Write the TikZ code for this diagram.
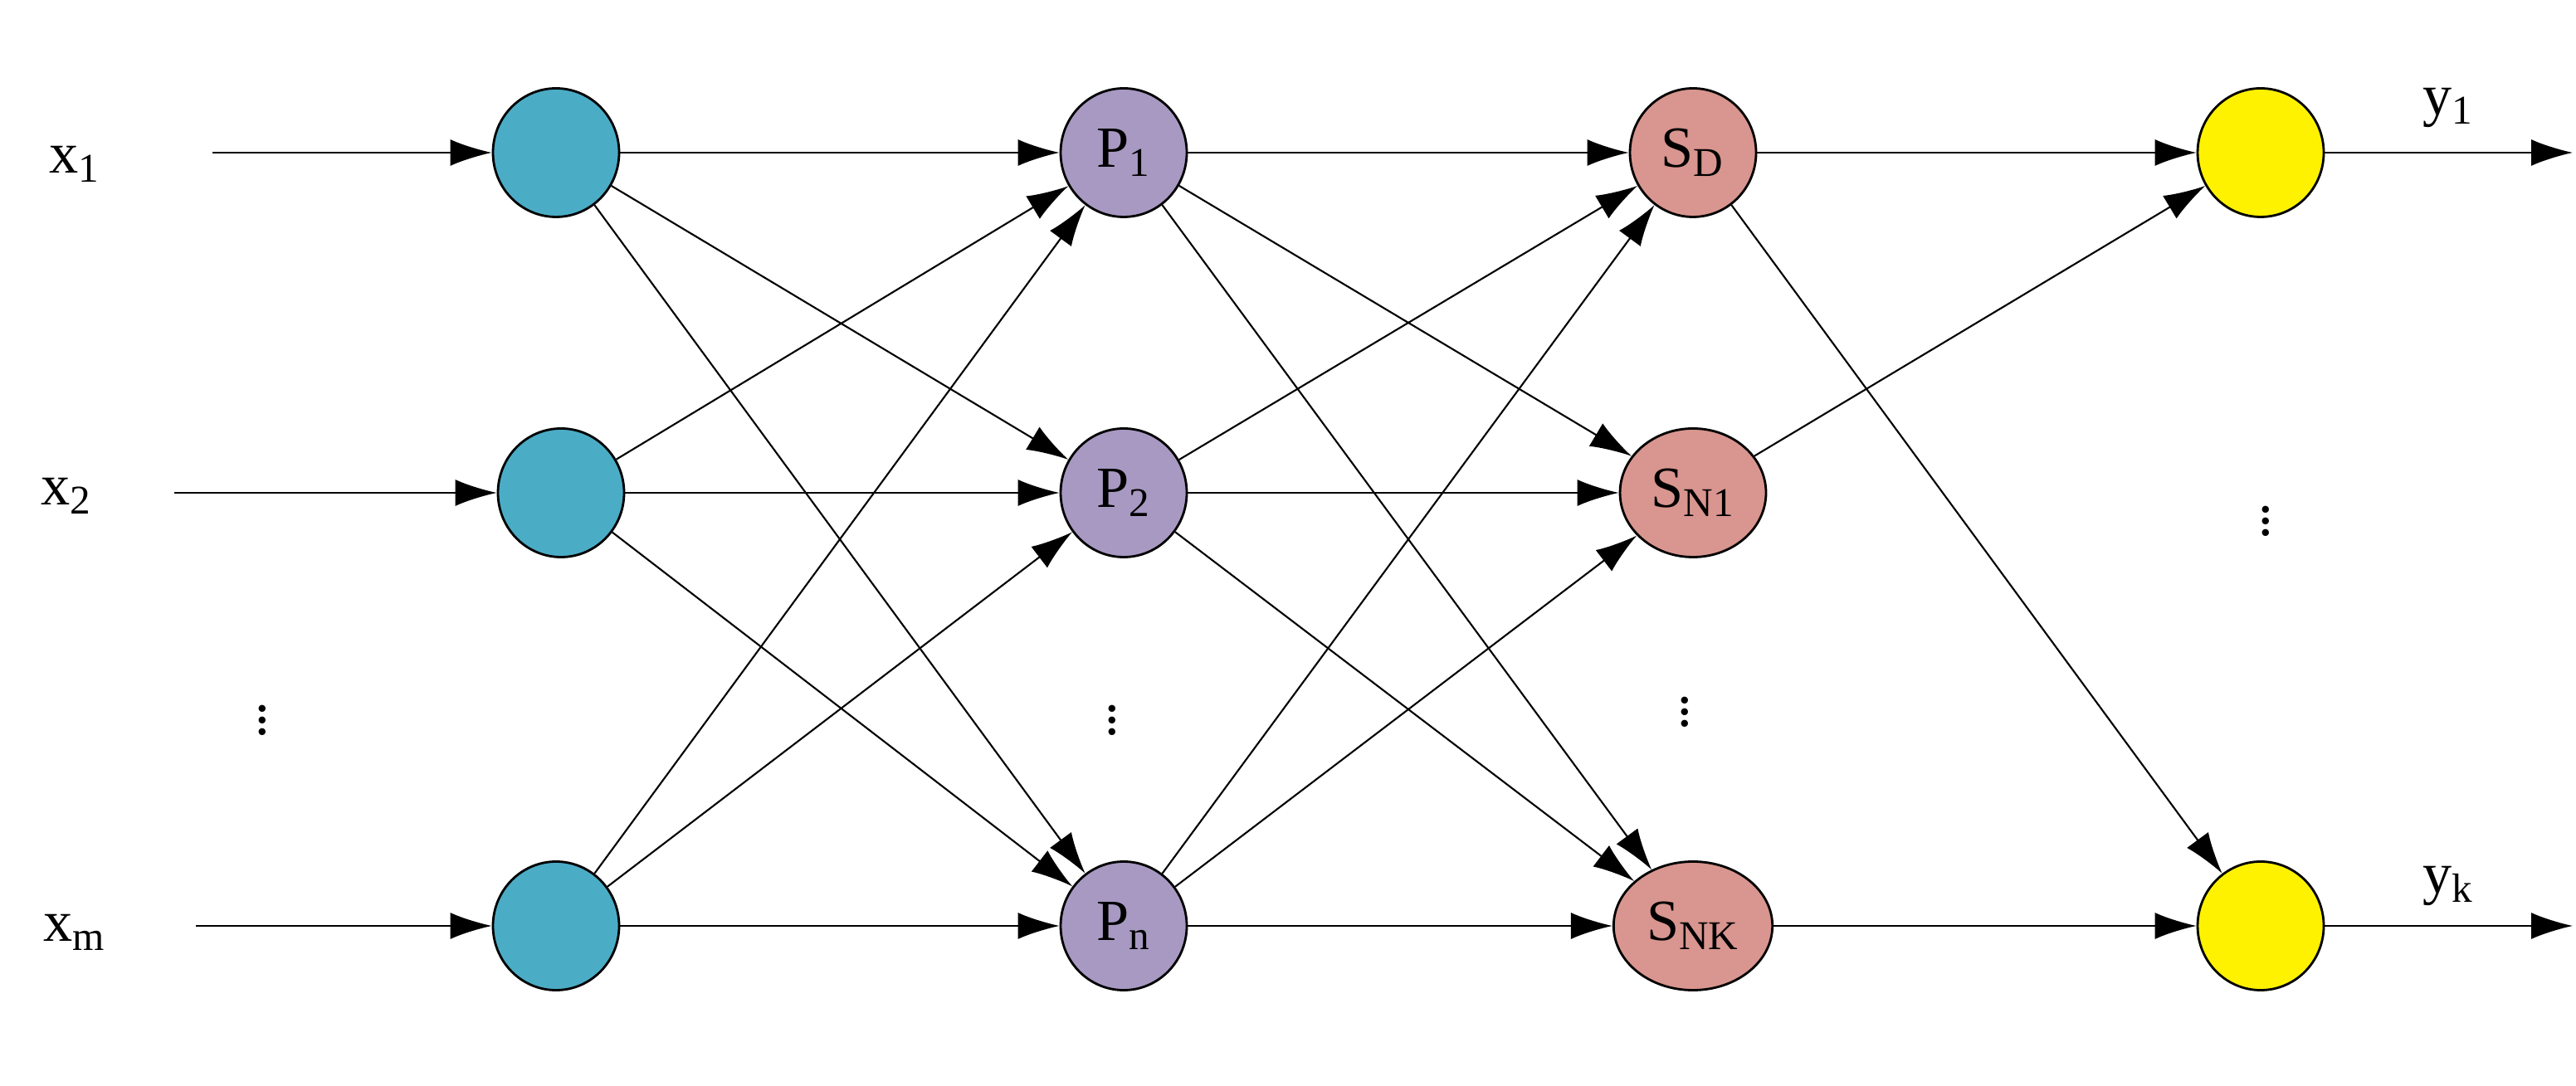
\documentclass[tikz,border=0pt]{standalone}
\usepackage{amsmath}
\usepackage{fontspec}
\setmainfont{Liberation Serif}
\usetikzlibrary{arrows.meta,shapes.geometric}
\definecolor{inblue}{HTML}{4BACC6}
\definecolor{ppurple}{HTML}{A899C2}
\definecolor{spink}{HTML}{D9958F}
\tikzset{
  neuron/.style={ellipse,draw,line width=0.8pt,minimum width=1.52cm,minimum height=1.55cm},
  conn/.style={-{Latex[length=5mm,width=3.2mm]},line width=0.6pt},
  lbl/.style={font=\fontsize{20}{22}\selectfont}
}
\begin{document}
\begin{tikzpicture}
  \useasboundingbox (0,0) rectangle (31.04,13.08);

  % input layer
  \node[neuron,fill=inblue] (I1) at (6.70,11.24) {};
  \node[neuron,fill=inblue] (I2) at (6.76,7.14) {};
  \node[neuron,fill=inblue] (I3) at (6.70,1.92) {};

  % pattern layer
  \node[neuron,fill=ppurple,lbl] (P1) at (13.54,11.24) {P$_{\text{1}}$};
  \node[neuron,fill=ppurple,lbl] (P2) at (13.54,7.14) {P$_{\text{2}}$};
  \node[neuron,fill=ppurple,lbl] (P3) at (13.54,1.92) {P$_{\text{n}}$};

  % summation layer
  \node[neuron,fill=spink,lbl] (S1) at (20.40,11.24) {S$_{\text{D}}$};
  \node[neuron,fill=spink,lbl] (S2) at (20.40,7.14) {S$_{\text{N1}}$};
  \node[neuron,fill=spink,lbl] (S3) at (20.40,1.92) {S$_{\text{NK}}$};

  % output layer
  \node[neuron,fill=yellow] (O1) at (27.24,11.24) {};
  \node[neuron,fill=yellow] (O2) at (27.24,1.92) {};

  % inputs
  \node[lbl] (x1) at (0.90,11.10) {x$_{\text{1}}$};
  \node[lbl] (x2) at (0.80,7.10) {x$_{\text{2}}$};
  \node[lbl] (xm) at (0.90,1.84) {x$_{\text{m}}$};
  \coordinate (xa) at (2.56,11.24);
  \coordinate (xb) at (2.10,7.14);
  \coordinate (xc) at (2.36,1.92);
  \draw[conn] (xa) -- (I1);
  \draw[conn] (xb) -- (I2);
  \draw[conn] (xc) -- (I3);

  % outputs
  \node[lbl] (y1) at (29.50,11.78) {y$_{\text{1}}$};
  \node[lbl] (yk) at (29.50,2.40) {y$_{\text{k}}$};
  \coordinate (ya) at (31.00,11.24);
  \coordinate (yb) at (31.00,1.92);
  \draw[conn] (O1) -- (ya);
  \draw[conn] (O2) -- (yb);

  % full connections
  \foreach \a in {1,2,3}
    \foreach \b in {1,2,3}
    {
      \draw[conn] (I\a) -- (P\b);
      \draw[conn] (P\a) -- (S\b);
    }
  \draw[conn] (S1) -- (O1);
  \draw[conn] (S1) -- (O2);
  \draw[conn] (S2) -- (O1);
  \draw[conn] (S3) -- (O2);

  % dots
  \node[lbl] (d1) at (3.16,4.50) {$\vdots$};
  \node[lbl] (d2) at (13.40,4.50) {$\vdots$};
  \node[lbl] (d3) at (20.30,4.60) {$\vdots$};
  \node[lbl] (d4) at (27.30,6.90) {$\vdots$};
\end{tikzpicture}
\end{document}
